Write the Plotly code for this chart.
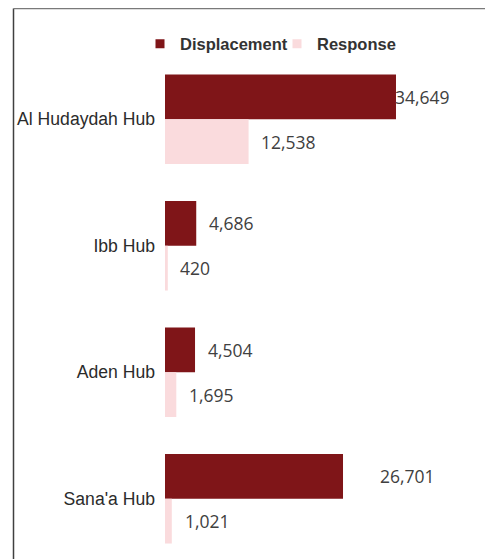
import plotly.graph_objects as go

categories = ["Al Hudaydah Hub", "Ibb Hub", "Aden Hub", "Sana'a Hub"]
displacement = [34649, 4686, 4504, 26701]
response = [12538, 420, 1695, 1021]
series_names = ["Displacement", "Response"]
colors = ["#7F1518", "#FADBDD"]

# label horizontal offsets (px) after bar end
disp_label_shift = [-3, 11, 11, 35]
resp_label_shift = [10, 10, 11, 11]

W, H = 485, 551
L, R, T, B = 157, 23, 48, 0
pw = W - L - R
ph = H - T - B
units_per_px = 150.0

fig = go.Figure()
fig.add_trace(go.Bar(y=categories, x=displacement, orientation="h", name=series_names[0],
                     marker=dict(color=colors[0], line=dict(width=0)), showlegend=False))
fig.add_trace(go.Bar(y=categories, x=response, orientation="h", name=series_names[1],
                     marker=dict(color=colors[1], line=dict(width=0)), showlegend=False))
for nm, c in zip(series_names, colors):
    fig.add_trace(go.Scatter(x=[None], y=[None], mode="markers", name=nm,
                             marker=dict(symbol="square", size=9, color=c)))

lab_font = dict(family="Open Sans", size=17.5, color="#404040")
ann = []
for cat, v, s in zip(categories, displacement, disp_label_shift):
    ann.append(dict(x=v, y=cat, text=f"{v:,}", showarrow=False, xanchor="left",
                    xshift=s, yshift=22.5, font=lab_font))
for cat, v, s in zip(categories, response, resp_label_shift):
    ann.append(dict(x=v, y=cat, text=f"{v:,}", showarrow=False, xanchor="left",
                    xshift=s, yshift=-22.5, font=lab_font))

def px_x(p):
    return (p - L) / pw

def px_y(p):
    return 1 - (p - T) / ph

shapes = [
    dict(type="line", xref="paper", yref="paper", x0=px_x(5.5), x1=px_x(5.5), y0=px_y(0.5), y1=px_y(600),
         line=dict(color="#404040", width=1.5)),
    dict(type="line", xref="paper", yref="paper", x0=px_x(5.5), x1=px_x(484.5), y0=px_y(0.6), y1=px_y(0.6),
         line=dict(color="#7a7a7a", width=1.5)),
    dict(type="line", xref="paper", yref="paper", x0=px_x(484.5), x1=px_x(484.5), y0=px_y(0.5), y1=px_y(600),
         line=dict(color="#d0d0d0", width=1)),
]

fig.update_layout(
    width=W, height=H,
    margin=dict(l=L, r=R, t=T, b=B, pad=0),
    paper_bgcolor="white", plot_bgcolor="white",
    barmode="group", bargap=0.292, bargroupgap=0,
    xaxis=dict(visible=False, range=[0, pw * units_per_px]),
    yaxis=dict(type="category", range=[-0.5 + ph / 126.5, -0.5], showgrid=False, zeroline=False,
               showline=False, ticks="", ticklabelstandoff=9,
               tickfont=dict(family="Liberation Sans, Arial", size=17.6, color="#2b2b2b")),
    legend=dict(orientation="h", x=px_x(132), xanchor="left", y=px_y(36), yanchor="middle",
                font=dict(family="Liberation Sans, Arial", size=16.5, color="#333333", weight="bold"),
                itemsizing="trace", bgcolor="rgba(0,0,0,0)", traceorder="normal",
                entrywidth=92, entrywidthmode="pixels"),
    annotations=ann,
    shapes=shapes,
)

fig.write_html("out.html")
